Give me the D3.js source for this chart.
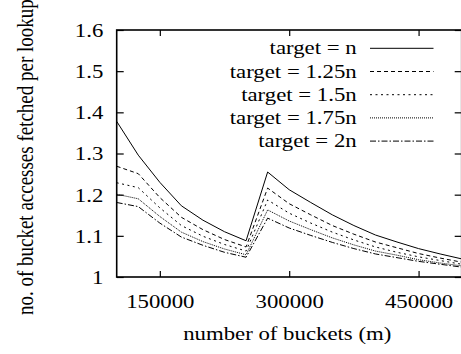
<!DOCTYPE html>
<html>
<head>
<meta charset="utf-8">
<script src="https://cdn.jsdelivr.net/npm/d3@7/dist/d3.min.js"></script>
<style>
  html, body { margin: 0; padding: 0; background: #fff; }
  svg { display: block; }
  svg text { font-family: 'Liberation Serif', 'DejaVu Serif', serif; font-size: 19px; fill: #000; }
</style>
</head>
<body>
<svg id="chart" width="461" height="354"></svg>
<script>
// Number of buckets (m)
const buckets = [100000, 125000, 150000, 175000, 200000, 225000, 250000, 275000,
                 300000, 325000, 350000, 375000, 400000, 425000, 450000, 475000, 500000];

// Bucket accesses fetched per lookup, one list per target
const targetN    = [1.378, 1.296, 1.230, 1.173, 1.138, 1.110, 1.088, 1.255, 1.212, 1.181, 1.151, 1.125, 1.102, 1.085, 1.069, 1.056, 1.044];
const target125n = [1.269, 1.251, 1.193, 1.145, 1.115, 1.091, 1.073, 1.216, 1.178, 1.151, 1.125, 1.104, 1.085, 1.071, 1.057, 1.046, 1.036];
const target15n  = [1.229, 1.217, 1.168, 1.125, 1.099, 1.079, 1.063, 1.187, 1.155, 1.131, 1.109, 1.090, 1.073, 1.060, 1.049, 1.040, 1.031];
const target175n = [1.201, 1.190, 1.147, 1.109, 1.086, 1.068, 1.054, 1.163, 1.136, 1.115, 1.095, 1.078, 1.063, 1.053, 1.042, 1.034, 1.027];
const target2n   = [1.181, 1.171, 1.131, 1.097, 1.077, 1.060, 1.048, 1.143, 1.119, 1.101, 1.084, 1.069, 1.056, 1.047, 1.038, 1.031, 1.024];

const seriesLabels = ["target = n", "target = 1.25n", "target = 1.5n", "target = 1.75n", "target = 2n"];
const seriesValues = [targetN, target125n, target15n, target175n, target2n];
const dashPatterns = ["none", "4,3", "2,3.5", "1,1", "6,2,1.5,2"];

const xTicks = [150000, 300000, 450000];
const yTicks = [1, 1.1, 1.2, 1.3, 1.4, 1.5, 1.6];

const FONT = "'Liberation Serif', 'DejaVu Serif', serif";
const SX = 1.2; // horizontal text stretch
const plotL = 116.7, plotR = 461.7, plotT = 30, plotB = 277;

const svg = d3.select("#chart");
const x = d3.scaleLinear().domain([100000, 500000]).range([plotL, plotR]);
const y = d3.scaleLinear().domain([1, 1.6]).range([plotB, plotT]);

// Axes with inward ticks on all four sides
const gBottom = svg.append("g").attr("transform", `translate(0,${plotB})`)
  .call(d3.axisBottom(x).tickValues(xTicks).tickSize(-6).tickFormat(d3.format("d")));
const gTop = svg.append("g").attr("transform", `translate(0,${plotT})`)
  .call(d3.axisTop(x).tickValues(xTicks).tickSize(-6).tickFormat(""));
const gLeft = svg.append("g").attr("transform", `translate(${plotL},0)`)
  .call(d3.axisLeft(y).tickValues(yTicks).tickSize(-7).tickFormat(d => String(+d.toFixed(1))));
const gRight = svg.append("g").attr("transform", `translate(${plotR},0)`)
  .call(d3.axisRight(y).tickValues(yTicks).tickSize(-7).tickFormat(""));

[gBottom, gTop, gLeft, gRight].forEach(g => {
  g.attr("font-family", FONT).attr("font-size", 19);
  g.select(".domain").remove();
  g.selectAll(".tick line").attr("stroke", "#000").attr("stroke-width", 1.2);
  g.selectAll("text").attr("fill", "#000");
});

gBottom.selectAll(".tick text")
  .attr("x", 0).attr("y", 31).attr("dy", null)
  .attr("text-anchor", "middle")
  .attr("transform", `scale(${SX},1)`);
gLeft.selectAll(".tick text")
  .attr("x", -13.4 / SX).attr("dy", "0.34em")
  .attr("text-anchor", "end")
  .attr("transform", `scale(${SX},1)`);

// Plot frame
svg.append("rect")
  .attr("x", plotL).attr("y", plotT)
  .attr("width", plotR - plotL).attr("height", plotB - plotT)
  .attr("fill", "none").attr("stroke", "#000").attr("stroke-width", 1.6);

// Series lines
const line = d3.line().x((d, i) => x(buckets[i])).y(d => y(d));
seriesValues.forEach((vals, k) => {
  svg.append("path")
    .datum(vals)
    .attr("d", line)
    .attr("fill", "none")
    .attr("stroke", "#000")
    .attr("stroke-width", 1)
    .attr("stroke-dasharray", dashPatterns[k]);
});

// Key
const keyRows = [48.3, 71.5, 94.7, 117.9, 141.1];
seriesLabels.forEach((lab, k) => {
  svg.append("text")
    .attr("font-family", FONT)
    .attr("transform", `translate(356.7,${keyRows[k] + 6}) scale(${SX},1)`)
    .attr("text-anchor", "end")
    .text(lab);
  svg.append("line")
    .attr("x1", 370).attr("x2", 433.5)
    .attr("y1", keyRows[k]).attr("y2", keyRows[k])
    .attr("stroke", "#000").attr("stroke-width", 1)
    .attr("stroke-dasharray", dashPatterns[k]);
});

// Axis titles
svg.append("text")
  .attr("font-family", FONT)
  .attr("transform", `translate(${(plotL + plotR) / 2 - 2},340) scale(${SX},1)`)
  .attr("text-anchor", "middle")
  .text("number of buckets (m)");

svg.append("text")
  .attr("font-family", FONT)
  .attr("transform", `translate(33,315) scale(${SX},1) rotate(-90)`)
  .attr("text-anchor", "start")
  .text("no. of bucket accesses fetched per lookup");
</script>
</body>
</html>
